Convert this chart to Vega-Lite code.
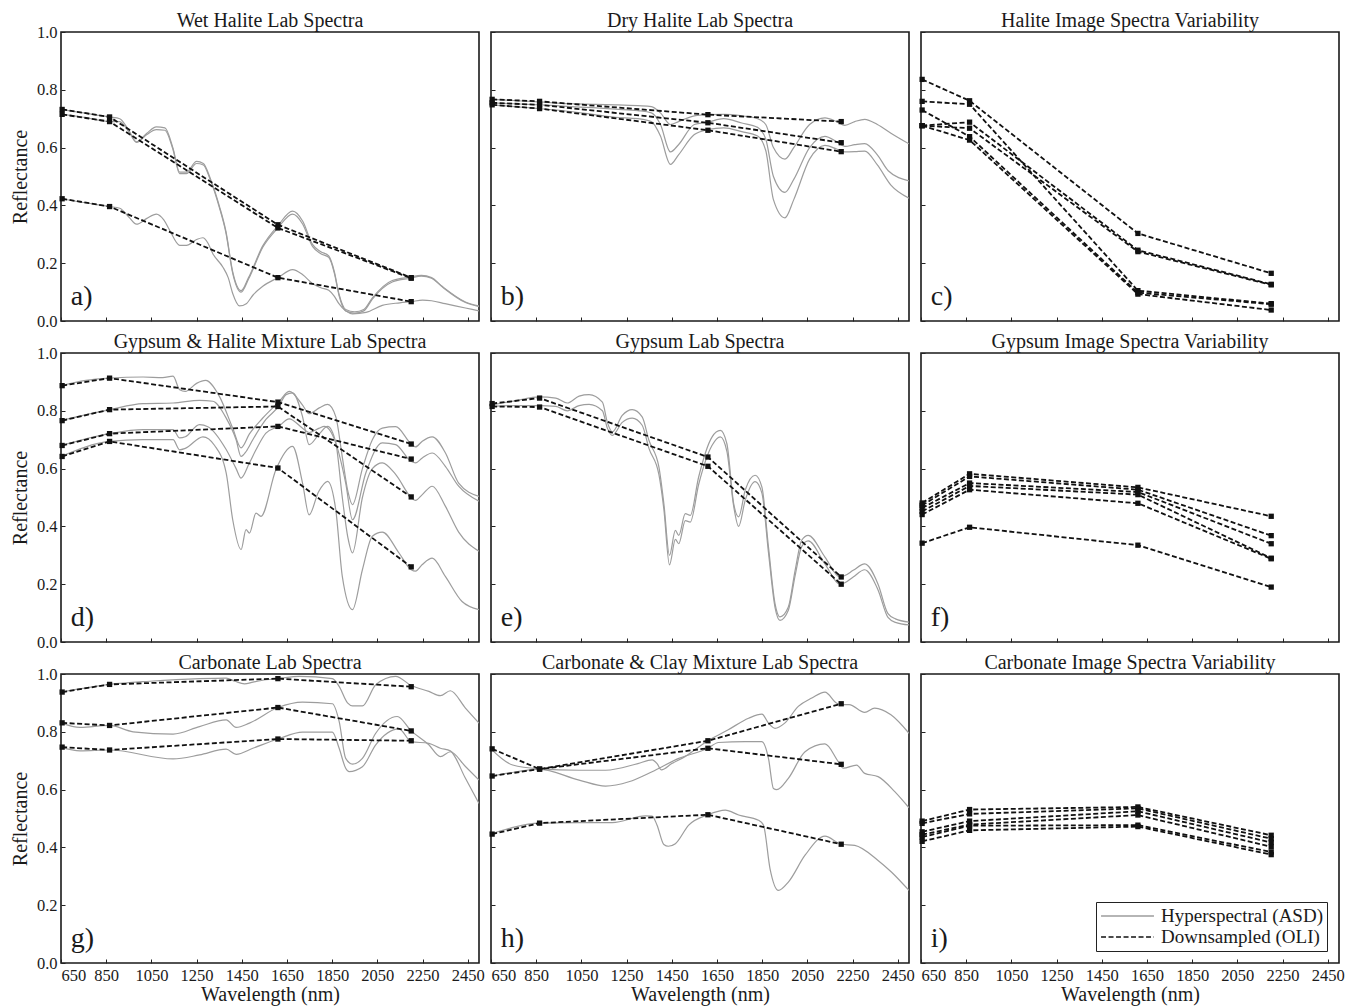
{
"$schema": "https://vega.github.io/schema/vega-lite/v6.json",
"background": "white",
"padding": {"left": 9, "top": 9, "right": 5, "bottom": 1},
"bounds": "flush",
"config": {
  "font": "Liberation Serif",
  "view": {"stroke": "#1a1a1a", "strokeWidth": 1.6},
  "axis": {"domain": false, "grid": false, "tickColor": "#222", "tickSize": -4, "tickWidth": 1, "labelFont": "Liberation Serif", "labelFontSize": 16.5, "labelColor": "#1a1a1a", "titleFont": "Liberation Serif", "titleFontSize": 20, "titleFontWeight": "normal", "titleColor": "#1a1a1a", "labelOverlap": false, "labelPadding": 8, "titlePadding": 6},
  "axisX": {"titlePadding": 1},
  "title": {"font": "Liberation Serif", "fontSize": 20, "fontWeight": "normal", "color": "#1a1a1a", "offset": 1, "anchor": "middle"},
  "legend": {"orient": "bottom-right", "offset": 12, "title": null, "strokeColor": "#222", "fillColor": "white", "padding": 4, "symbolType": "stroke", "symbolSize": 2800, "symbolStrokeWidth": 1.6, "labelFont": "Liberation Serif", "labelFontSize": 19, "labelColor": "#1a1a1a", "rowPadding": 1, "labelOffset": 6, "labelLimit": 300, "clipHeight": 20}
},
"resolve": {"scale": {"color": "independent", "strokeDash": "independent"}, "legend": {"color": "independent", "strokeDash": "independent"}},
"datasets": {
"labels": [{"p":"a","lab":"a)"},{"p":"b","lab":"b)"},{"p":"c","lab":"c)"},{"p":"d","lab":"d)"},{"p":"e","lab":"e)"},{"p":"f","lab":"f)"},{"p":"g","lab":"g)"},{"p":"h","lab":"h)"},{"p":"i","lab":"i)"}],
"oli": [
{"p":"a","s":1,"wl":655,"r":0.732},{"p":"a","s":1,"wl":865,"r":0.706},{"p":"a","s":1,"wl":1610,"r":0.333},{"p":"a","s":1,"wl":2200,"r":0.15},
{"p":"a","s":2,"wl":655,"r":0.715},{"p":"a","s":2,"wl":865,"r":0.69},{"p":"a","s":2,"wl":1610,"r":0.322},{"p":"a","s":2,"wl":2200,"r":0.148},
{"p":"a","s":3,"wl":655,"r":0.423},{"p":"a","s":3,"wl":865,"r":0.396},{"p":"a","s":3,"wl":1610,"r":0.15},{"p":"a","s":3,"wl":2200,"r":0.067},
{"p":"b","s":1,"wl":655,"r":0.767},{"p":"b","s":1,"wl":865,"r":0.76},{"p":"b","s":1,"wl":1610,"r":0.714},{"p":"b","s":1,"wl":2200,"r":0.69},
{"p":"b","s":2,"wl":655,"r":0.755},{"p":"b","s":2,"wl":865,"r":0.748},{"p":"b","s":2,"wl":1610,"r":0.686},{"p":"b","s":2,"wl":2200,"r":0.617},
{"p":"b","s":3,"wl":655,"r":0.748},{"p":"b","s":3,"wl":865,"r":0.735},{"p":"b","s":3,"wl":1610,"r":0.66},{"p":"b","s":3,"wl":2200,"r":0.586},
{"p":"c","s":1,"wl":655,"r":0.836},{"p":"c","s":1,"wl":865,"r":0.762},{"p":"c","s":1,"wl":1610,"r":0.303},{"p":"c","s":1,"wl":2200,"r":0.165},
{"p":"c","s":2,"wl":655,"r":0.76},{"p":"c","s":2,"wl":865,"r":0.75},{"p":"c","s":2,"wl":1610,"r":0.105},{"p":"c","s":2,"wl":2200,"r":0.06},
{"p":"c","s":3,"wl":655,"r":0.73},{"p":"c","s":3,"wl":865,"r":0.638},{"p":"c","s":3,"wl":1610,"r":0.098},{"p":"c","s":3,"wl":2200,"r":0.058},
{"p":"c","s":4,"wl":655,"r":0.676},{"p":"c","s":4,"wl":865,"r":0.688},{"p":"c","s":4,"wl":1610,"r":0.245},{"p":"c","s":4,"wl":2200,"r":0.127},
{"p":"c","s":5,"wl":655,"r":0.676},{"p":"c","s":5,"wl":865,"r":0.667},{"p":"c","s":5,"wl":1610,"r":0.24},{"p":"c","s":5,"wl":2200,"r":0.125},
{"p":"c","s":6,"wl":655,"r":0.676},{"p":"c","s":6,"wl":865,"r":0.626},{"p":"c","s":6,"wl":1610,"r":0.093},{"p":"c","s":6,"wl":2200,"r":0.038},
{"p":"d","s":1,"wl":655,"r":0.887},{"p":"d","s":1,"wl":865,"r":0.913},{"p":"d","s":1,"wl":1610,"r":0.83},{"p":"d","s":1,"wl":2200,"r":0.685},
{"p":"d","s":2,"wl":655,"r":0.766},{"p":"d","s":2,"wl":865,"r":0.804},{"p":"d","s":2,"wl":1610,"r":0.815},{"p":"d","s":2,"wl":2200,"r":0.502},
{"p":"d","s":3,"wl":655,"r":0.68},{"p":"d","s":3,"wl":865,"r":0.721},{"p":"d","s":3,"wl":1610,"r":0.746},{"p":"d","s":3,"wl":2200,"r":0.633},
{"p":"d","s":4,"wl":655,"r":0.642},{"p":"d","s":4,"wl":865,"r":0.694},{"p":"d","s":4,"wl":1610,"r":0.602},{"p":"d","s":4,"wl":2200,"r":0.26},
{"p":"e","s":1,"wl":655,"r":0.825},{"p":"e","s":1,"wl":865,"r":0.844},{"p":"e","s":1,"wl":1610,"r":0.64},{"p":"e","s":1,"wl":2200,"r":0.225},
{"p":"e","s":2,"wl":655,"r":0.815},{"p":"e","s":2,"wl":865,"r":0.813},{"p":"e","s":2,"wl":1610,"r":0.608},{"p":"e","s":2,"wl":2200,"r":0.2},
{"p":"f","s":1,"wl":655,"r":0.481},{"p":"f","s":1,"wl":865,"r":0.582},{"p":"f","s":1,"wl":1610,"r":0.535},{"p":"f","s":1,"wl":2200,"r":0.435},
{"p":"f","s":2,"wl":655,"r":0.473},{"p":"f","s":2,"wl":865,"r":0.573},{"p":"f","s":2,"wl":1610,"r":0.527},{"p":"f","s":2,"wl":2200,"r":0.368},
{"p":"f","s":3,"wl":655,"r":0.464},{"p":"f","s":3,"wl":865,"r":0.55},{"p":"f","s":3,"wl":1610,"r":0.519},{"p":"f","s":3,"wl":2200,"r":0.34},
{"p":"f","s":4,"wl":655,"r":0.452},{"p":"f","s":4,"wl":865,"r":0.54},{"p":"f","s":4,"wl":1610,"r":0.51},{"p":"f","s":4,"wl":2200,"r":0.29},
{"p":"f","s":5,"wl":655,"r":0.441},{"p":"f","s":5,"wl":865,"r":0.527},{"p":"f","s":5,"wl":1610,"r":0.48},{"p":"f","s":5,"wl":2200,"r":0.288},
{"p":"f","s":6,"wl":655,"r":0.342},{"p":"f","s":6,"wl":865,"r":0.397},{"p":"f","s":6,"wl":1610,"r":0.335},{"p":"f","s":6,"wl":2200,"r":0.19},
{"p":"g","s":1,"wl":655,"r":0.9375},{"p":"g","s":1,"wl":865,"r":0.964},{"p":"g","s":1,"wl":1610,"r":0.984},{"p":"g","s":1,"wl":2200,"r":0.956},
{"p":"g","s":2,"wl":655,"r":0.831},{"p":"g","s":2,"wl":865,"r":0.822},{"p":"g","s":2,"wl":1610,"r":0.884},{"p":"g","s":2,"wl":2200,"r":0.803},
{"p":"g","s":3,"wl":655,"r":0.747},{"p":"g","s":3,"wl":865,"r":0.737},{"p":"g","s":3,"wl":1610,"r":0.775},{"p":"g","s":3,"wl":2200,"r":0.769},
{"p":"h","s":1,"wl":655,"r":0.741},{"p":"h","s":1,"wl":865,"r":0.671},{"p":"h","s":1,"wl":1610,"r":0.769},{"p":"h","s":1,"wl":2200,"r":0.897},
{"p":"h","s":2,"wl":655,"r":0.647},{"p":"h","s":2,"wl":865,"r":0.671},{"p":"h","s":2,"wl":1610,"r":0.743},{"p":"h","s":2,"wl":2200,"r":0.6875},
{"p":"h","s":3,"wl":655,"r":0.446},{"p":"h","s":3,"wl":865,"r":0.484},{"p":"h","s":3,"wl":1610,"r":0.513},{"p":"h","s":3,"wl":2200,"r":0.411},
{"p":"i","s":1,"wl":655,"r":0.491,"t":"Downsampled (OLI)"},{"p":"i","s":1,"wl":865,"r":0.531,"t":"Downsampled (OLI)"},{"p":"i","s":1,"wl":1610,"r":0.54,"t":"Downsampled (OLI)"},{"p":"i","s":1,"wl":2200,"r":0.442,"t":"Downsampled (OLI)"},
{"p":"i","s":2,"wl":655,"r":0.483,"t":"Downsampled (OLI)"},{"p":"i","s":2,"wl":865,"r":0.516,"t":"Downsampled (OLI)"},{"p":"i","s":2,"wl":1610,"r":0.535,"t":"Downsampled (OLI)"},{"p":"i","s":2,"wl":2200,"r":0.43,"t":"Downsampled (OLI)"},
{"p":"i","s":3,"wl":655,"r":0.454,"t":"Downsampled (OLI)"},{"p":"i","s":3,"wl":865,"r":0.491,"t":"Downsampled (OLI)"},{"p":"i","s":3,"wl":1610,"r":0.525,"t":"Downsampled (OLI)"},{"p":"i","s":3,"wl":2200,"r":0.417,"t":"Downsampled (OLI)"},
{"p":"i","s":4,"wl":655,"r":0.444,"t":"Downsampled (OLI)"},{"p":"i","s":4,"wl":865,"r":0.479,"t":"Downsampled (OLI)"},{"p":"i","s":4,"wl":1610,"r":0.512,"t":"Downsampled (OLI)"},{"p":"i","s":4,"wl":2200,"r":0.402,"t":"Downsampled (OLI)"},
{"p":"i","s":5,"wl":655,"r":0.436,"t":"Downsampled (OLI)"},{"p":"i","s":5,"wl":865,"r":0.475,"t":"Downsampled (OLI)"},{"p":"i","s":5,"wl":1610,"r":0.477,"t":"Downsampled (OLI)"},{"p":"i","s":5,"wl":2200,"r":0.384,"t":"Downsampled (OLI)"},
{"p":"i","s":6,"wl":655,"r":0.421,"t":"Downsampled (OLI)"},{"p":"i","s":6,"wl":865,"r":0.459,"t":"Downsampled (OLI)"},{"p":"i","s":6,"wl":1610,"r":0.472,"t":"Downsampled (OLI)"},{"p":"i","s":6,"wl":2200,"r":0.375,"t":"Downsampled (OLI)"}
],
"hyper": [
{"p":"a","s":1,"wl":650,"r":0.732},{"p":"a","s":1,"wl":750,"r":0.72},{"p":"a","s":1,"wl":865,"r":0.706},{"p":"a","s":1,"wl":910,"r":0.7},{"p":"a","s":1,"wl":950,"r":0.66},{"p":"a","s":1,"wl":984,"r":0.62},{"p":"a","s":1,"wl":1030,"r":0.65},{"p":"a","s":1,"wl":1072,"r":0.672},{"p":"a","s":1,"wl":1110,"r":0.668},{"p":"a","s":1,"wl":1145,"r":0.6},{"p":"a","s":1,"wl":1175,"r":0.515},{"p":"a","s":1,"wl":1205,"r":0.515},{"p":"a","s":1,"wl":1250,"r":0.552},{"p":"a","s":1,"wl":1280,"r":0.545},{"p":"a","s":1,"wl":1310,"r":0.495},{"p":"a","s":1,"wl":1350,"r":0.4},{"p":"a","s":1,"wl":1380,"r":0.31},{"p":"a","s":1,"wl":1410,"r":0.17},{"p":"a","s":1,"wl":1447,"r":0.105},{"p":"a","s":1,"wl":1480,"r":0.15},{"p":"a","s":1,"wl":1543,"r":0.26},{"p":"a","s":1,"wl":1610,"r":0.33},{"p":"a","s":1,"wl":1675,"r":0.38},{"p":"a","s":1,"wl":1720,"r":0.345},{"p":"a","s":1,"wl":1763,"r":0.265},{"p":"a","s":1,"wl":1800,"r":0.24},{"p":"a","s":1,"wl":1835,"r":0.225},{"p":"a","s":1,"wl":1860,"r":0.17},{"p":"a","s":1,"wl":1880,"r":0.095},{"p":"a","s":1,"wl":1910,"r":0.04},{"p":"a","s":1,"wl":1950,"r":0.032},{"p":"a","s":1,"wl":1990,"r":0.04},{"p":"a","s":1,"wl":2028,"r":0.08},{"p":"a","s":1,"wl":2116,"r":0.14},{"p":"a","s":1,"wl":2195,"r":0.152},{"p":"a","s":1,"wl":2245,"r":0.158},{"p":"a","s":1,"wl":2290,"r":0.15},{"p":"a","s":1,"wl":2337,"r":0.12},{"p":"a","s":1,"wl":2440,"r":0.066},{"p":"a","s":1,"wl":2500,"r":0.052},
{"p":"a","s":2,"wl":650,"r":0.715},{"p":"a","s":2,"wl":750,"r":0.705},{"p":"a","s":2,"wl":865,"r":0.69},{"p":"a","s":2,"wl":910,"r":0.69},{"p":"a","s":2,"wl":950,"r":0.655},{"p":"a","s":2,"wl":984,"r":0.618},{"p":"a","s":2,"wl":1030,"r":0.645},{"p":"a","s":2,"wl":1072,"r":0.662},{"p":"a","s":2,"wl":1110,"r":0.66},{"p":"a","s":2,"wl":1145,"r":0.595},{"p":"a","s":2,"wl":1175,"r":0.51},{"p":"a","s":2,"wl":1205,"r":0.51},{"p":"a","s":2,"wl":1250,"r":0.545},{"p":"a","s":2,"wl":1280,"r":0.54},{"p":"a","s":2,"wl":1310,"r":0.49},{"p":"a","s":2,"wl":1350,"r":0.395},{"p":"a","s":2,"wl":1380,"r":0.305},{"p":"a","s":2,"wl":1410,"r":0.165},{"p":"a","s":2,"wl":1447,"r":0.1},{"p":"a","s":2,"wl":1480,"r":0.145},{"p":"a","s":2,"wl":1543,"r":0.255},{"p":"a","s":2,"wl":1610,"r":0.322},{"p":"a","s":2,"wl":1675,"r":0.37},{"p":"a","s":2,"wl":1720,"r":0.335},{"p":"a","s":2,"wl":1763,"r":0.258},{"p":"a","s":2,"wl":1800,"r":0.233},{"p":"a","s":2,"wl":1835,"r":0.22},{"p":"a","s":2,"wl":1860,"r":0.165},{"p":"a","s":2,"wl":1880,"r":0.09},{"p":"a","s":2,"wl":1910,"r":0.035},{"p":"a","s":2,"wl":1950,"r":0.027},{"p":"a","s":2,"wl":1990,"r":0.035},{"p":"a","s":2,"wl":2028,"r":0.076},{"p":"a","s":2,"wl":2116,"r":0.135},{"p":"a","s":2,"wl":2195,"r":0.148},{"p":"a","s":2,"wl":2245,"r":0.155},{"p":"a","s":2,"wl":2290,"r":0.148},{"p":"a","s":2,"wl":2337,"r":0.118},{"p":"a","s":2,"wl":2440,"r":0.064},{"p":"a","s":2,"wl":2500,"r":0.05},
{"p":"a","s":3,"wl":650,"r":0.423},{"p":"a","s":3,"wl":750,"r":0.41},{"p":"a","s":3,"wl":865,"r":0.396},{"p":"a","s":3,"wl":910,"r":0.39},{"p":"a","s":3,"wl":950,"r":0.36},{"p":"a","s":3,"wl":984,"r":0.335},{"p":"a","s":3,"wl":1030,"r":0.355},{"p":"a","s":3,"wl":1072,"r":0.37},{"p":"a","s":3,"wl":1105,"r":0.35},{"p":"a","s":3,"wl":1131,"r":0.314},{"p":"a","s":3,"wl":1175,"r":0.262},{"p":"a","s":3,"wl":1205,"r":0.262},{"p":"a","s":3,"wl":1250,"r":0.282},{"p":"a","s":3,"wl":1278,"r":0.288},{"p":"a","s":3,"wl":1300,"r":0.27},{"p":"a","s":3,"wl":1322,"r":0.233},{"p":"a","s":3,"wl":1366,"r":0.187},{"p":"a","s":3,"wl":1390,"r":0.15},{"p":"a","s":3,"wl":1410,"r":0.095},{"p":"a","s":3,"wl":1440,"r":0.052},{"p":"a","s":3,"wl":1470,"r":0.06},{"p":"a","s":3,"wl":1500,"r":0.09},{"p":"a","s":3,"wl":1543,"r":0.12},{"p":"a","s":3,"wl":1610,"r":0.15},{"p":"a","s":3,"wl":1675,"r":0.178},{"p":"a","s":3,"wl":1720,"r":0.16},{"p":"a","s":3,"wl":1763,"r":0.13},{"p":"a","s":3,"wl":1800,"r":0.115},{"p":"a","s":3,"wl":1835,"r":0.106},{"p":"a","s":3,"wl":1860,"r":0.085},{"p":"a","s":3,"wl":1880,"r":0.06},{"p":"a","s":3,"wl":1910,"r":0.035},{"p":"a","s":3,"wl":1940,"r":0.025},{"p":"a","s":3,"wl":2000,"r":0.03},{"p":"a","s":3,"wl":2072,"r":0.054},{"p":"a","s":3,"wl":2150,"r":0.063},{"p":"a","s":3,"wl":2200,"r":0.067},{"p":"a","s":3,"wl":2250,"r":0.072},{"p":"a","s":3,"wl":2290,"r":0.07},{"p":"a","s":3,"wl":2350,"r":0.06},{"p":"a","s":3,"wl":2440,"r":0.045},{"p":"a","s":3,"wl":2500,"r":0.035},
{"p":"b","s":1,"wl":650,"r":0.767},{"p":"b","s":1,"wl":865,"r":0.758},{"p":"b","s":1,"wl":1000,"r":0.752},{"p":"b","s":1,"wl":1100,"r":0.75},{"p":"b","s":1,"wl":1200,"r":0.748},{"p":"b","s":1,"wl":1300,"r":0.745},{"p":"b","s":1,"wl":1360,"r":0.742},{"p":"b","s":1,"wl":1400,"r":0.72},{"p":"b","s":1,"wl":1444,"r":0.68},{"p":"b","s":1,"wl":1480,"r":0.69},{"p":"b","s":1,"wl":1550,"r":0.71},{"p":"b","s":1,"wl":1610,"r":0.714},{"p":"b","s":1,"wl":1680,"r":0.715},{"p":"b","s":1,"wl":1760,"r":0.71},{"p":"b","s":1,"wl":1830,"r":0.7},{"p":"b","s":1,"wl":1866,"r":0.68},{"p":"b","s":1,"wl":1900,"r":0.6},{"p":"b","s":1,"wl":1951,"r":0.56},{"p":"b","s":1,"wl":1990,"r":0.6},{"p":"b","s":1,"wl":2060,"r":0.68},{"p":"b","s":1,"wl":2128,"r":0.703},{"p":"b","s":1,"wl":2180,"r":0.69},{"p":"b","s":1,"wl":2216,"r":0.677},{"p":"b","s":1,"wl":2260,"r":0.69},{"p":"b","s":1,"wl":2304,"r":0.698},{"p":"b","s":1,"wl":2360,"r":0.68},{"p":"b","s":1,"wl":2420,"r":0.65},{"p":"b","s":1,"wl":2500,"r":0.613},
{"p":"b","s":2,"wl":650,"r":0.755},{"p":"b","s":2,"wl":865,"r":0.748},{"p":"b","s":2,"wl":1000,"r":0.742},{"p":"b","s":2,"wl":1100,"r":0.738},{"p":"b","s":2,"wl":1200,"r":0.733},{"p":"b","s":2,"wl":1300,"r":0.728},{"p":"b","s":2,"wl":1360,"r":0.72},{"p":"b","s":2,"wl":1400,"r":0.68},{"p":"b","s":2,"wl":1444,"r":0.585},{"p":"b","s":2,"wl":1480,"r":0.61},{"p":"b","s":2,"wl":1550,"r":0.68},{"p":"b","s":2,"wl":1610,"r":0.688},{"p":"b","s":2,"wl":1680,"r":0.7},{"p":"b","s":2,"wl":1760,"r":0.685},{"p":"b","s":2,"wl":1830,"r":0.67},{"p":"b","s":2,"wl":1866,"r":0.63},{"p":"b","s":2,"wl":1900,"r":0.5},{"p":"b","s":2,"wl":1951,"r":0.445},{"p":"b","s":2,"wl":1990,"r":0.49},{"p":"b","s":2,"wl":2060,"r":0.6},{"p":"b","s":2,"wl":2128,"r":0.639},{"p":"b","s":2,"wl":2180,"r":0.62},{"p":"b","s":2,"wl":2216,"r":0.604},{"p":"b","s":2,"wl":2260,"r":0.61},{"p":"b","s":2,"wl":2304,"r":0.614},{"p":"b","s":2,"wl":2360,"r":0.575},{"p":"b","s":2,"wl":2408,"r":0.52},{"p":"b","s":2,"wl":2500,"r":0.485},
{"p":"b","s":3,"wl":650,"r":0.748},{"p":"b","s":3,"wl":865,"r":0.735},{"p":"b","s":3,"wl":1000,"r":0.725},{"p":"b","s":3,"wl":1100,"r":0.715},{"p":"b","s":3,"wl":1200,"r":0.705},{"p":"b","s":3,"wl":1300,"r":0.7},{"p":"b","s":3,"wl":1360,"r":0.69},{"p":"b","s":3,"wl":1400,"r":0.64},{"p":"b","s":3,"wl":1444,"r":0.542},{"p":"b","s":3,"wl":1480,"r":0.575},{"p":"b","s":3,"wl":1550,"r":0.645},{"p":"b","s":3,"wl":1610,"r":0.662},{"p":"b","s":3,"wl":1680,"r":0.668},{"p":"b","s":3,"wl":1760,"r":0.655},{"p":"b","s":3,"wl":1830,"r":0.64},{"p":"b","s":3,"wl":1866,"r":0.59},{"p":"b","s":3,"wl":1900,"r":0.42},{"p":"b","s":3,"wl":1951,"r":0.357},{"p":"b","s":3,"wl":1990,"r":0.42},{"p":"b","s":3,"wl":2060,"r":0.56},{"p":"b","s":3,"wl":2128,"r":0.608},{"p":"b","s":3,"wl":2180,"r":0.595},{"p":"b","s":3,"wl":2216,"r":0.585},{"p":"b","s":3,"wl":2260,"r":0.586},{"p":"b","s":3,"wl":2304,"r":0.588},{"p":"b","s":3,"wl":2360,"r":0.54},{"p":"b","s":3,"wl":2420,"r":0.47},{"p":"b","s":3,"wl":2500,"r":0.425},
{"p":"d","s":1,"wl":650,"r":0.887},{"p":"d","s":1,"wl":760,"r":0.905},{"p":"d","s":1,"wl":865,"r":0.913},{"p":"d","s":1,"wl":1013,"r":0.917},{"p":"d","s":1,"wl":1100,"r":0.915},{"p":"d","s":1,"wl":1146,"r":0.92},{"p":"d","s":1,"wl":1175,"r":0.873},{"p":"d","s":1,"wl":1200,"r":0.867},{"p":"d","s":1,"wl":1250,"r":0.895},{"p":"d","s":1,"wl":1290,"r":0.905},{"p":"d","s":1,"wl":1351,"r":0.85},{"p":"d","s":1,"wl":1410,"r":0.74},{"p":"d","s":1,"wl":1447,"r":0.672},{"p":"d","s":1,"wl":1484,"r":0.72},{"p":"d","s":1,"wl":1543,"r":0.775},{"p":"d","s":1,"wl":1613,"r":0.83},{"p":"d","s":1,"wl":1660,"r":0.867},{"p":"d","s":1,"wl":1719,"r":0.82},{"p":"d","s":1,"wl":1748,"r":0.79},{"p":"d","s":1,"wl":1793,"r":0.81},{"p":"d","s":1,"wl":1830,"r":0.822},{"p":"d","s":1,"wl":1866,"r":0.78},{"p":"d","s":1,"wl":1895,"r":0.64},{"p":"d","s":1,"wl":1920,"r":0.52},{"p":"d","s":1,"wl":1940,"r":0.475},{"p":"d","s":1,"wl":1984,"r":0.6},{"p":"d","s":1,"wl":2028,"r":0.7},{"p":"d","s":1,"wl":2072,"r":0.74},{"p":"d","s":1,"wl":2131,"r":0.745},{"p":"d","s":1,"wl":2200,"r":0.685},{"p":"d","s":1,"wl":2219,"r":0.675},{"p":"d","s":1,"wl":2249,"r":0.695},{"p":"d","s":1,"wl":2293,"r":0.71},{"p":"d","s":1,"wl":2351,"r":0.655},{"p":"d","s":1,"wl":2410,"r":0.55},{"p":"d","s":1,"wl":2500,"r":0.504},
{"p":"d","s":2,"wl":650,"r":0.766},{"p":"d","s":2,"wl":865,"r":0.804},{"p":"d","s":2,"wl":1013,"r":0.825},{"p":"d","s":2,"wl":1146,"r":0.827},{"p":"d","s":2,"wl":1263,"r":0.836},{"p":"d","s":2,"wl":1322,"r":0.833},{"p":"d","s":2,"wl":1381,"r":0.775},{"p":"d","s":2,"wl":1425,"r":0.7},{"p":"d","s":2,"wl":1447,"r":0.642},{"p":"d","s":2,"wl":1470,"r":0.66},{"p":"d","s":2,"wl":1499,"r":0.7},{"p":"d","s":2,"wl":1557,"r":0.77},{"p":"d","s":2,"wl":1613,"r":0.815},{"p":"d","s":2,"wl":1646,"r":0.856},{"p":"d","s":2,"wl":1675,"r":0.862},{"p":"d","s":2,"wl":1719,"r":0.78},{"p":"d","s":2,"wl":1748,"r":0.683},{"p":"d","s":2,"wl":1793,"r":0.72},{"p":"d","s":2,"wl":1830,"r":0.746},{"p":"d","s":2,"wl":1866,"r":0.69},{"p":"d","s":2,"wl":1895,"r":0.5},{"p":"d","s":2,"wl":1920,"r":0.36},{"p":"d","s":2,"wl":1940,"r":0.308},{"p":"d","s":2,"wl":1984,"r":0.5},{"p":"d","s":2,"wl":2028,"r":0.6},{"p":"d","s":2,"wl":2072,"r":0.62},{"p":"d","s":2,"wl":2131,"r":0.58},{"p":"d","s":2,"wl":2200,"r":0.5},{"p":"d","s":2,"wl":2219,"r":0.49},{"p":"d","s":2,"wl":2249,"r":0.51},{"p":"d","s":2,"wl":2293,"r":0.539},{"p":"d","s":2,"wl":2351,"r":0.47},{"p":"d","s":2,"wl":2410,"r":0.38},{"p":"d","s":2,"wl":2500,"r":0.314},
{"p":"d","s":3,"wl":650,"r":0.68},{"p":"d","s":3,"wl":865,"r":0.721},{"p":"d","s":3,"wl":1013,"r":0.735},{"p":"d","s":3,"wl":1146,"r":0.735},{"p":"d","s":3,"wl":1175,"r":0.706},{"p":"d","s":3,"wl":1200,"r":0.71},{"p":"d","s":3,"wl":1263,"r":0.752},{"p":"d","s":3,"wl":1300,"r":0.745},{"p":"d","s":3,"wl":1381,"r":0.666},{"p":"d","s":3,"wl":1425,"r":0.6},{"p":"d","s":3,"wl":1447,"r":0.567},{"p":"d","s":3,"wl":1484,"r":0.62},{"p":"d","s":3,"wl":1513,"r":0.665},{"p":"d","s":3,"wl":1557,"r":0.723},{"p":"d","s":3,"wl":1613,"r":0.746},{"p":"d","s":3,"wl":1660,"r":0.772},{"p":"d","s":3,"wl":1719,"r":0.74},{"p":"d","s":3,"wl":1748,"r":0.725},{"p":"d","s":3,"wl":1793,"r":0.74},{"p":"d","s":3,"wl":1815,"r":0.746},{"p":"d","s":3,"wl":1866,"r":0.689},{"p":"d","s":3,"wl":1910,"r":0.55},{"p":"d","s":3,"wl":1940,"r":0.423},{"p":"d","s":3,"wl":1999,"r":0.585},{"p":"d","s":3,"wl":2072,"r":0.689},{"p":"d","s":3,"wl":2131,"r":0.683},{"p":"d","s":3,"wl":2200,"r":0.625},{"p":"d","s":3,"wl":2219,"r":0.62},{"p":"d","s":3,"wl":2249,"r":0.637},{"p":"d","s":3,"wl":2293,"r":0.654},{"p":"d","s":3,"wl":2351,"r":0.608},{"p":"d","s":3,"wl":2410,"r":0.539},{"p":"d","s":3,"wl":2500,"r":0.487},
{"p":"d","s":4,"wl":650,"r":0.642},{"p":"d","s":4,"wl":865,"r":0.694},{"p":"d","s":4,"wl":1013,"r":0.7},{"p":"d","s":4,"wl":1146,"r":0.7},{"p":"d","s":4,"wl":1175,"r":0.665},{"p":"d","s":4,"wl":1200,"r":0.67},{"p":"d","s":4,"wl":1278,"r":0.71},{"p":"d","s":4,"wl":1330,"r":0.68},{"p":"d","s":4,"wl":1381,"r":0.585},{"p":"d","s":4,"wl":1410,"r":0.423},{"p":"d","s":4,"wl":1447,"r":0.32},{"p":"d","s":4,"wl":1469,"r":0.389},{"p":"d","s":4,"wl":1484,"r":0.377},{"p":"d","s":4,"wl":1513,"r":0.446},{"p":"d","s":4,"wl":1535,"r":0.435},{"p":"d","s":4,"wl":1601,"r":0.596},{"p":"d","s":4,"wl":1675,"r":0.677},{"p":"d","s":4,"wl":1719,"r":0.55},{"p":"d","s":4,"wl":1748,"r":0.44},{"p":"d","s":4,"wl":1790,"r":0.52},{"p":"d","s":4,"wl":1830,"r":0.556},{"p":"d","s":4,"wl":1866,"r":0.458},{"p":"d","s":4,"wl":1895,"r":0.227},{"p":"d","s":4,"wl":1940,"r":0.112},{"p":"d","s":4,"wl":1984,"r":0.25},{"p":"d","s":4,"wl":2028,"r":0.366},{"p":"d","s":4,"wl":2072,"r":0.38},{"p":"d","s":4,"wl":2146,"r":0.308},{"p":"d","s":4,"wl":2200,"r":0.25},{"p":"d","s":4,"wl":2219,"r":0.245},{"p":"d","s":4,"wl":2249,"r":0.268},{"p":"d","s":4,"wl":2293,"r":0.29},{"p":"d","s":4,"wl":2351,"r":0.227},{"p":"d","s":4,"wl":2425,"r":0.14},{"p":"d","s":4,"wl":2500,"r":0.112},
{"p":"e","s":1,"wl":650,"r":0.82},{"p":"e","s":1,"wl":760,"r":0.835},{"p":"e","s":1,"wl":863,"r":0.848},{"p":"e","s":1,"wl":937,"r":0.844},{"p":"e","s":1,"wl":988,"r":0.827},{"p":"e","s":1,"wl":1040,"r":0.851},{"p":"e","s":1,"wl":1084,"r":0.856},{"p":"e","s":1,"wl":1143,"r":0.83},{"p":"e","s":1,"wl":1165,"r":0.76},{"p":"e","s":1,"wl":1187,"r":0.727},{"p":"e","s":1,"wl":1231,"r":0.784},{"p":"e","s":1,"wl":1275,"r":0.804},{"p":"e","s":1,"wl":1319,"r":0.779},{"p":"e","s":1,"wl":1349,"r":0.698},{"p":"e","s":1,"wl":1393,"r":0.606},{"p":"e","s":1,"wl":1415,"r":0.479},{"p":"e","s":1,"wl":1440,"r":0.3},{"p":"e","s":1,"wl":1466,"r":0.386},{"p":"e","s":1,"wl":1481,"r":0.369},{"p":"e","s":1,"wl":1510,"r":0.444},{"p":"e","s":1,"wl":1532,"r":0.438},{"p":"e","s":1,"wl":1569,"r":0.571},{"p":"e","s":1,"wl":1628,"r":0.709},{"p":"e","s":1,"wl":1665,"r":0.732},{"p":"e","s":1,"wl":1694,"r":0.686},{"p":"e","s":1,"wl":1724,"r":0.479},{"p":"e","s":1,"wl":1746,"r":0.433},{"p":"e","s":1,"wl":1775,"r":0.525},{"p":"e","s":1,"wl":1819,"r":0.577},{"p":"e","s":1,"wl":1849,"r":0.536},{"p":"e","s":1,"wl":1878,"r":0.329},{"p":"e","s":1,"wl":1907,"r":0.133},{"p":"e","s":1,"wl":1929,"r":0.087},{"p":"e","s":1,"wl":1966,"r":0.121},{"p":"e","s":1,"wl":1996,"r":0.248},{"p":"e","s":1,"wl":2025,"r":0.352},{"p":"e","s":1,"wl":2054,"r":0.369},{"p":"e","s":1,"wl":2128,"r":0.294},{"p":"e","s":1,"wl":2194,"r":0.225},{"p":"e","s":1,"wl":2216,"r":0.23},{"p":"e","s":1,"wl":2253,"r":0.248},{"p":"e","s":1,"wl":2304,"r":0.27},{"p":"e","s":1,"wl":2363,"r":0.2},{"p":"e","s":1,"wl":2407,"r":0.098},{"p":"e","s":1,"wl":2440,"r":0.08},{"p":"e","s":1,"wl":2500,"r":0.069},
{"p":"e","s":2,"wl":650,"r":0.815},{"p":"e","s":2,"wl":760,"r":0.818},{"p":"e","s":2,"wl":863,"r":0.818},{"p":"e","s":2,"wl":937,"r":0.815},{"p":"e","s":2,"wl":988,"r":0.8},{"p":"e","s":2,"wl":1040,"r":0.818},{"p":"e","s":2,"wl":1084,"r":0.822},{"p":"e","s":2,"wl":1143,"r":0.8},{"p":"e","s":2,"wl":1165,"r":0.74},{"p":"e","s":2,"wl":1187,"r":0.715},{"p":"e","s":2,"wl":1231,"r":0.76},{"p":"e","s":2,"wl":1275,"r":0.775},{"p":"e","s":2,"wl":1319,"r":0.75},{"p":"e","s":2,"wl":1349,"r":0.67},{"p":"e","s":2,"wl":1393,"r":0.58},{"p":"e","s":2,"wl":1415,"r":0.46},{"p":"e","s":2,"wl":1440,"r":0.267},{"p":"e","s":2,"wl":1466,"r":0.355},{"p":"e","s":2,"wl":1481,"r":0.34},{"p":"e","s":2,"wl":1510,"r":0.42},{"p":"e","s":2,"wl":1532,"r":0.415},{"p":"e","s":2,"wl":1569,"r":0.545},{"p":"e","s":2,"wl":1628,"r":0.68},{"p":"e","s":2,"wl":1665,"r":0.71},{"p":"e","s":2,"wl":1694,"r":0.66},{"p":"e","s":2,"wl":1724,"r":0.47},{"p":"e","s":2,"wl":1746,"r":0.4},{"p":"e","s":2,"wl":1775,"r":0.49},{"p":"e","s":2,"wl":1819,"r":0.555},{"p":"e","s":2,"wl":1849,"r":0.515},{"p":"e","s":2,"wl":1878,"r":0.31},{"p":"e","s":2,"wl":1907,"r":0.12},{"p":"e","s":2,"wl":1929,"r":0.075},{"p":"e","s":2,"wl":1966,"r":0.11},{"p":"e","s":2,"wl":1996,"r":0.23},{"p":"e","s":2,"wl":2025,"r":0.33},{"p":"e","s":2,"wl":2054,"r":0.35},{"p":"e","s":2,"wl":2128,"r":0.27},{"p":"e","s":2,"wl":2194,"r":0.2},{"p":"e","s":2,"wl":2216,"r":0.205},{"p":"e","s":2,"wl":2253,"r":0.225},{"p":"e","s":2,"wl":2304,"r":0.25},{"p":"e","s":2,"wl":2363,"r":0.18},{"p":"e","s":2,"wl":2407,"r":0.085},{"p":"e","s":2,"wl":2440,"r":0.068},{"p":"e","s":2,"wl":2500,"r":0.059},
{"p":"g","s":1,"wl":650,"r":0.937},{"p":"g","s":1,"wl":865,"r":0.964},{"p":"g","s":1,"wl":1043,"r":0.975},{"p":"g","s":1,"wl":1263,"r":0.984},{"p":"g","s":1,"wl":1381,"r":0.986},{"p":"g","s":1,"wl":1420,"r":0.975},{"p":"g","s":1,"wl":1462,"r":0.966},{"p":"g","s":1,"wl":1500,"r":0.972},{"p":"g","s":1,"wl":1557,"r":0.98},{"p":"g","s":1,"wl":1610,"r":0.984},{"p":"g","s":1,"wl":1704,"r":0.992},{"p":"g","s":1,"wl":1851,"r":0.984},{"p":"g","s":1,"wl":1881,"r":0.957},{"p":"g","s":1,"wl":1918,"r":0.9},{"p":"g","s":1,"wl":1940,"r":0.89},{"p":"g","s":1,"wl":1984,"r":0.89},{"p":"g","s":1,"wl":2043,"r":0.963},{"p":"g","s":1,"wl":2131,"r":0.992},{"p":"g","s":1,"wl":2200,"r":0.96},{"p":"g","s":1,"wl":2278,"r":0.94},{"p":"g","s":1,"wl":2329,"r":0.925},{"p":"g","s":1,"wl":2373,"r":0.942},{"p":"g","s":1,"wl":2440,"r":0.882},{"p":"g","s":1,"wl":2500,"r":0.83},
{"p":"g","s":2,"wl":650,"r":0.831},{"p":"g","s":2,"wl":734,"r":0.815},{"p":"g","s":2,"wl":865,"r":0.822},{"p":"g","s":2,"wl":969,"r":0.8},{"p":"g","s":2,"wl":1146,"r":0.792},{"p":"g","s":2,"wl":1263,"r":0.818},{"p":"g","s":2,"wl":1381,"r":0.841},{"p":"g","s":2,"wl":1425,"r":0.815},{"p":"g","s":2,"wl":1484,"r":0.83},{"p":"g","s":2,"wl":1610,"r":0.884},{"p":"g","s":2,"wl":1719,"r":0.903},{"p":"g","s":2,"wl":1851,"r":0.897},{"p":"g","s":2,"wl":1881,"r":0.836},{"p":"g","s":2,"wl":1910,"r":0.708},{"p":"g","s":2,"wl":1940,"r":0.688},{"p":"g","s":2,"wl":1984,"r":0.708},{"p":"g","s":2,"wl":2043,"r":0.795},{"p":"g","s":2,"wl":2138,"r":0.853},{"p":"g","s":2,"wl":2200,"r":0.803},{"p":"g","s":2,"wl":2278,"r":0.755},{"p":"g","s":2,"wl":2329,"r":0.714},{"p":"g","s":2,"wl":2373,"r":0.731},{"p":"g","s":2,"wl":2440,"r":0.68},{"p":"g","s":2,"wl":2500,"r":0.633},
{"p":"g","s":3,"wl":650,"r":0.747},{"p":"g","s":3,"wl":734,"r":0.734},{"p":"g","s":3,"wl":865,"r":0.737},{"p":"g","s":3,"wl":1146,"r":0.706},{"p":"g","s":3,"wl":1263,"r":0.72},{"p":"g","s":3,"wl":1381,"r":0.74},{"p":"g","s":3,"wl":1425,"r":0.722},{"p":"g","s":3,"wl":1499,"r":0.743},{"p":"g","s":3,"wl":1610,"r":0.775},{"p":"g","s":3,"wl":1719,"r":0.799},{"p":"g","s":3,"wl":1851,"r":0.799},{"p":"g","s":3,"wl":1881,"r":0.743},{"p":"g","s":3,"wl":1910,"r":0.674},{"p":"g","s":3,"wl":1925,"r":0.662},{"p":"g","s":3,"wl":1984,"r":0.679},{"p":"g","s":3,"wl":2043,"r":0.755},{"p":"g","s":3,"wl":2146,"r":0.81},{"p":"g","s":3,"wl":2200,"r":0.766},{"p":"g","s":3,"wl":2278,"r":0.76},{"p":"g","s":3,"wl":2329,"r":0.743},{"p":"g","s":3,"wl":2373,"r":0.734},{"p":"g","s":3,"wl":2440,"r":0.639},{"p":"g","s":3,"wl":2500,"r":0.552},
{"p":"h","s":1,"wl":650,"r":0.741},{"p":"h","s":1,"wl":746,"r":0.685},{"p":"h","s":1,"wl":860,"r":0.672},{"p":"h","s":1,"wl":1040,"r":0.667},{"p":"h","s":1,"wl":1157,"r":0.667},{"p":"h","s":1,"wl":1300,"r":0.69},{"p":"h","s":1,"wl":1363,"r":0.703},{"p":"h","s":1,"wl":1385,"r":0.69},{"p":"h","s":1,"wl":1404,"r":0.668},{"p":"h","s":1,"wl":1450,"r":0.69},{"p":"h","s":1,"wl":1510,"r":0.715},{"p":"h","s":1,"wl":1610,"r":0.769},{"p":"h","s":1,"wl":1700,"r":0.807},{"p":"h","s":1,"wl":1790,"r":0.847},{"p":"h","s":1,"wl":1849,"r":0.861},{"p":"h","s":1,"wl":1878,"r":0.83},{"p":"h","s":1,"wl":1907,"r":0.812},{"p":"h","s":1,"wl":1950,"r":0.83},{"p":"h","s":1,"wl":2010,"r":0.888},{"p":"h","s":1,"wl":2070,"r":0.917},{"p":"h","s":1,"wl":2128,"r":0.9375},{"p":"h","s":1,"wl":2180,"r":0.899},{"p":"h","s":1,"wl":2200,"r":0.894},{"p":"h","s":1,"wl":2235,"r":0.894},{"p":"h","s":1,"wl":2304,"r":0.867},{"p":"h","s":1,"wl":2348,"r":0.882},{"p":"h","s":1,"wl":2420,"r":0.859},{"p":"h","s":1,"wl":2500,"r":0.795},
{"p":"h","s":2,"wl":650,"r":0.647},{"p":"h","s":2,"wl":750,"r":0.66},{"p":"h","s":2,"wl":860,"r":0.671},{"p":"h","s":2,"wl":1040,"r":0.633},{"p":"h","s":2,"wl":1157,"r":0.612},{"p":"h","s":2,"wl":1260,"r":0.627},{"p":"h","s":2,"wl":1363,"r":0.662},{"p":"h","s":2,"wl":1481,"r":0.708},{"p":"h","s":2,"wl":1610,"r":0.743},{"p":"h","s":2,"wl":1657,"r":0.763},{"p":"h","s":2,"wl":1775,"r":0.766},{"p":"h","s":2,"wl":1849,"r":0.766},{"p":"h","s":2,"wl":1878,"r":0.708},{"p":"h","s":2,"wl":1900,"r":0.604},{"p":"h","s":2,"wl":1915,"r":0.6},{"p":"h","s":2,"wl":1966,"r":0.639},{"p":"h","s":2,"wl":2040,"r":0.731},{"p":"h","s":2,"wl":2128,"r":0.758},{"p":"h","s":2,"wl":2187,"r":0.697},{"p":"h","s":2,"wl":2209,"r":0.674},{"p":"h","s":2,"wl":2268,"r":0.685},{"p":"h","s":2,"wl":2304,"r":0.656},{"p":"h","s":2,"wl":2363,"r":0.645},{"p":"h","s":2,"wl":2437,"r":0.593},{"p":"h","s":2,"wl":2500,"r":0.537},
{"p":"h","s":3,"wl":650,"r":0.446},{"p":"h","s":3,"wl":865,"r":0.484},{"p":"h","s":3,"wl":1040,"r":0.486},{"p":"h","s":3,"wl":1187,"r":0.486},{"p":"h","s":3,"wl":1334,"r":0.509},{"p":"h","s":3,"wl":1363,"r":0.508},{"p":"h","s":3,"wl":1385,"r":0.477},{"p":"h","s":3,"wl":1415,"r":0.41},{"p":"h","s":3,"wl":1435,"r":0.404},{"p":"h","s":3,"wl":1466,"r":0.413},{"p":"h","s":3,"wl":1525,"r":0.477},{"p":"h","s":3,"wl":1610,"r":0.513},{"p":"h","s":3,"wl":1687,"r":0.529},{"p":"h","s":3,"wl":1746,"r":0.512},{"p":"h","s":3,"wl":1834,"r":0.494},{"p":"h","s":3,"wl":1856,"r":0.477},{"p":"h","s":3,"wl":1885,"r":0.326},{"p":"h","s":3,"wl":1922,"r":0.251},{"p":"h","s":3,"wl":1966,"r":0.28},{"p":"h","s":3,"wl":2040,"r":0.373},{"p":"h","s":3,"wl":2128,"r":0.439},{"p":"h","s":3,"wl":2200,"r":0.411},{"p":"h","s":3,"wl":2260,"r":0.407},{"p":"h","s":3,"wl":2363,"r":0.355},{"p":"h","s":3,"wl":2422,"r":0.315},{"p":"h","s":3,"wl":2500,"r":0.251}
]
},
"concat": [
{"title": {"text": "Wet Halite Lab Spectra", "offset": -7}, "width": 418, "height": 289,
 "layer": [
  {"data": {"name": "hyper"}, "transform": [{"filter": "datum.p == 'a'"}], "mark": {"type": "line", "color": "#9d9d9d", "strokeWidth": 1.2, "interpolate": "monotone", "clip": true},
   "encoding": {"x": {"field": "wl", "type": "quantitative", "scale": {"domain": [650, 2500], "nice": false, "zero": false}, "axis": {"values": [650,750,850,950,1050,1150,1250,1350,1450,1550,1650,1750,1850,1950,2050,2150,2250,2350,2450], "labels": false, "title": null}},
                "y": {"field": "r", "type": "quantitative", "scale": {"domain": [0, 1], "nice": false}, "axis": {"values": [0,0.1,0.2,0.3,0.4,0.5,0.6,0.7,0.8,0.9,1], "format": ".1f", "labelExpr": "round(datum.value*10) % 2 == 0 ? datum.label : ''", "title": "Reflectance"}},
                "detail": {"field": "s"}}},
  {"data": {"name": "oli"}, "transform": [{"filter": "datum.p == 'a'"}], "mark": {"type": "line", "color": "#111", "strokeWidth": 1.8, "strokeDash": [5, 2.5]}, "encoding": {"x": {"field": "wl", "type": "quantitative"}, "y": {"field": "r", "type": "quantitative"}, "detail": {"field": "s"}}},
  {"data": {"name": "oli"}, "transform": [{"filter": "datum.p == 'a'"}], "mark": {"type": "square", "color": "#111", "size": 28, "opacity": 1, "filled": true}, "encoding": {"x": {"field": "wl", "type": "quantitative"}, "y": {"field": "r", "type": "quantitative"}}},
  {"data": {"name": "labels"}, "transform": [{"filter": "datum.p == 'a'"}], "mark": {"type": "text", "fontSize": 28, "align": "left", "baseline": "alphabetic", "color": "#1a1a1a"}, "encoding": {"text": {"field": "lab"}, "x": {"datum": 693}, "y": {"datum": 0.055}}}
 ]},
{"title": "Dry Halite Lab Spectra", "width": 418, "height": 289,
 "layer": [
  {"data": {"name": "hyper"}, "transform": [{"filter": "datum.p == 'b'"}], "mark": {"type": "line", "color": "#9d9d9d", "strokeWidth": 1.2, "interpolate": "monotone", "clip": true},
   "encoding": {"x": {"field": "wl", "type": "quantitative", "scale": {"domain": [650, 2500], "nice": false, "zero": false}, "axis": {"values": [650,750,850,950,1050,1150,1250,1350,1450,1550,1650,1750,1850,1950,2050,2150,2250,2350,2450], "labels": false, "title": null}},
                "y": {"field": "r", "type": "quantitative", "scale": {"domain": [0, 1], "nice": false}, "axis": {"values": [0,0.1,0.2,0.3,0.4,0.5,0.6,0.7,0.8,0.9,1], "labels": false, "title": null}},
                "detail": {"field": "s"}}},
  {"data": {"name": "oli"}, "transform": [{"filter": "datum.p == 'b'"}], "mark": {"type": "line", "color": "#111", "strokeWidth": 1.8, "strokeDash": [5, 2.5]}, "encoding": {"x": {"field": "wl", "type": "quantitative"}, "y": {"field": "r", "type": "quantitative"}, "detail": {"field": "s"}}},
  {"data": {"name": "oli"}, "transform": [{"filter": "datum.p == 'b'"}], "mark": {"type": "square", "color": "#111", "size": 28, "opacity": 1, "filled": true}, "encoding": {"x": {"field": "wl", "type": "quantitative"}, "y": {"field": "r", "type": "quantitative"}}},
  {"data": {"name": "labels"}, "transform": [{"filter": "datum.p == 'b'"}], "mark": {"type": "text", "fontSize": 28, "align": "left", "baseline": "alphabetic", "color": "#1a1a1a"}, "encoding": {"text": {"field": "lab"}, "x": {"datum": 693}, "y": {"datum": 0.055}}}
 ]},
{"title": "Halite Image Spectra Variability", "width": 418, "height": 289,
 "layer": [
  {"data": {"name": "oli"}, "transform": [{"filter": "datum.p == 'c'"}], "mark": {"type": "line", "color": "#111", "strokeWidth": 1.8, "strokeDash": [5, 2.5]},
   "encoding": {"x": {"field": "wl", "type": "quantitative", "scale": {"domain": [650, 2500], "nice": false, "zero": false}, "axis": {"values": [650,750,850,950,1050,1150,1250,1350,1450,1550,1650,1750,1850,1950,2050,2150,2250,2350,2450], "labels": false, "title": null}},
                "y": {"field": "r", "type": "quantitative", "scale": {"domain": [0, 1], "nice": false}, "axis": {"values": [0,0.1,0.2,0.3,0.4,0.5,0.6,0.7,0.8,0.9,1], "labels": false, "title": null}},
                "detail": {"field": "s"}}},
  {"data": {"name": "oli"}, "transform": [{"filter": "datum.p == 'c'"}], "mark": {"type": "square", "color": "#111", "size": 28, "opacity": 1, "filled": true}, "encoding": {"x": {"field": "wl", "type": "quantitative"}, "y": {"field": "r", "type": "quantitative"}}},
  {"data": {"name": "labels"}, "transform": [{"filter": "datum.p == 'c'"}], "mark": {"type": "text", "fontSize": 28, "align": "left", "baseline": "alphabetic", "color": "#1a1a1a"}, "encoding": {"text": {"field": "lab"}, "x": {"datum": 693}, "y": {"datum": 0.055}}}
 ]},
{"title": {"text": "Gypsum & Halite Mixture Lab Spectra", "offset": -7}, "width": 418, "height": 289,
 "layer": [
  {"data": {"name": "hyper"}, "transform": [{"filter": "datum.p == 'd'"}], "mark": {"type": "line", "color": "#9d9d9d", "strokeWidth": 1.2, "interpolate": "monotone", "clip": true},
   "encoding": {"x": {"field": "wl", "type": "quantitative", "scale": {"domain": [650, 2500], "nice": false, "zero": false}, "axis": {"values": [650,750,850,950,1050,1150,1250,1350,1450,1550,1650,1750,1850,1950,2050,2150,2250,2350,2450], "labels": false, "title": null}},
                "y": {"field": "r", "type": "quantitative", "scale": {"domain": [0, 1], "nice": false}, "axis": {"values": [0,0.1,0.2,0.3,0.4,0.5,0.6,0.7,0.8,0.9,1], "format": ".1f", "labelExpr": "round(datum.value*10) % 2 == 0 ? datum.label : ''", "title": "Reflectance"}},
                "detail": {"field": "s"}}},
  {"data": {"name": "oli"}, "transform": [{"filter": "datum.p == 'd'"}], "mark": {"type": "line", "color": "#111", "strokeWidth": 1.8, "strokeDash": [5, 2.5]}, "encoding": {"x": {"field": "wl", "type": "quantitative"}, "y": {"field": "r", "type": "quantitative"}, "detail": {"field": "s"}}},
  {"data": {"name": "oli"}, "transform": [{"filter": "datum.p == 'd'"}], "mark": {"type": "square", "color": "#111", "size": 28, "opacity": 1, "filled": true}, "encoding": {"x": {"field": "wl", "type": "quantitative"}, "y": {"field": "r", "type": "quantitative"}}},
  {"data": {"name": "labels"}, "transform": [{"filter": "datum.p == 'd'"}], "mark": {"type": "text", "fontSize": 28, "align": "left", "baseline": "alphabetic", "color": "#1a1a1a"}, "encoding": {"text": {"field": "lab"}, "x": {"datum": 693}, "y": {"datum": 0.055}}}
 ]},
{"title": "Gypsum Lab Spectra", "width": 418, "height": 289,
 "layer": [
  {"data": {"name": "hyper"}, "transform": [{"filter": "datum.p == 'e'"}], "mark": {"type": "line", "color": "#9d9d9d", "strokeWidth": 1.2, "interpolate": "monotone", "clip": true},
   "encoding": {"x": {"field": "wl", "type": "quantitative", "scale": {"domain": [650, 2500], "nice": false, "zero": false}, "axis": {"values": [650,750,850,950,1050,1150,1250,1350,1450,1550,1650,1750,1850,1950,2050,2150,2250,2350,2450], "labels": false, "title": null}},
                "y": {"field": "r", "type": "quantitative", "scale": {"domain": [0, 1], "nice": false}, "axis": {"values": [0,0.1,0.2,0.3,0.4,0.5,0.6,0.7,0.8,0.9,1], "labels": false, "title": null}},
                "detail": {"field": "s"}}},
  {"data": {"name": "oli"}, "transform": [{"filter": "datum.p == 'e'"}], "mark": {"type": "line", "color": "#111", "strokeWidth": 1.8, "strokeDash": [5, 2.5]}, "encoding": {"x": {"field": "wl", "type": "quantitative"}, "y": {"field": "r", "type": "quantitative"}, "detail": {"field": "s"}}},
  {"data": {"name": "oli"}, "transform": [{"filter": "datum.p == 'e'"}], "mark": {"type": "square", "color": "#111", "size": 28, "opacity": 1, "filled": true}, "encoding": {"x": {"field": "wl", "type": "quantitative"}, "y": {"field": "r", "type": "quantitative"}}},
  {"data": {"name": "labels"}, "transform": [{"filter": "datum.p == 'e'"}], "mark": {"type": "text", "fontSize": 28, "align": "left", "baseline": "alphabetic", "color": "#1a1a1a"}, "encoding": {"text": {"field": "lab"}, "x": {"datum": 693}, "y": {"datum": 0.055}}}
 ]},
{"title": "Gypsum Image Spectra Variability", "width": 418, "height": 289,
 "layer": [
  {"data": {"name": "oli"}, "transform": [{"filter": "datum.p == 'f'"}], "mark": {"type": "line", "color": "#111", "strokeWidth": 1.8, "strokeDash": [5, 2.5]},
   "encoding": {"x": {"field": "wl", "type": "quantitative", "scale": {"domain": [650, 2500], "nice": false, "zero": false}, "axis": {"values": [650,750,850,950,1050,1150,1250,1350,1450,1550,1650,1750,1850,1950,2050,2150,2250,2350,2450], "labels": false, "title": null}},
                "y": {"field": "r", "type": "quantitative", "scale": {"domain": [0, 1], "nice": false}, "axis": {"values": [0,0.1,0.2,0.3,0.4,0.5,0.6,0.7,0.8,0.9,1], "labels": false, "title": null}},
                "detail": {"field": "s"}}},
  {"data": {"name": "oli"}, "transform": [{"filter": "datum.p == 'f'"}], "mark": {"type": "square", "color": "#111", "size": 28, "opacity": 1, "filled": true}, "encoding": {"x": {"field": "wl", "type": "quantitative"}, "y": {"field": "r", "type": "quantitative"}}},
  {"data": {"name": "labels"}, "transform": [{"filter": "datum.p == 'f'"}], "mark": {"type": "text", "fontSize": 28, "align": "left", "baseline": "alphabetic", "color": "#1a1a1a"}, "encoding": {"text": {"field": "lab"}, "x": {"datum": 693}, "y": {"datum": 0.055}}}
 ]},
{"title": {"text": "Carbonate Lab Spectra", "offset": -7}, "width": 418, "height": 289,
 "layer": [
  {"data": {"name": "hyper"}, "transform": [{"filter": "datum.p == 'g'"}], "mark": {"type": "line", "color": "#9d9d9d", "strokeWidth": 1.2, "interpolate": "monotone", "clip": true},
   "encoding": {"x": {"field": "wl", "type": "quantitative", "scale": {"domain": [650, 2500], "nice": false, "zero": false}, "axis": {"values": [650,750,850,950,1050,1150,1250,1350,1450,1550,1650,1750,1850,1950,2050,2150,2250,2350,2450], "format": "d", "labelExpr": "(datum.value - 650) % 200 == 0 ? datum.label : ''", "title": "Wavelength (nm)"}},
                "y": {"field": "r", "type": "quantitative", "scale": {"domain": [0, 1], "nice": false}, "axis": {"values": [0,0.1,0.2,0.3,0.4,0.5,0.6,0.7,0.8,0.9,1], "format": ".1f", "labelExpr": "round(datum.value*10) % 2 == 0 ? datum.label : ''", "title": "Reflectance"}},
                "detail": {"field": "s"}}},
  {"data": {"name": "oli"}, "transform": [{"filter": "datum.p == 'g'"}], "mark": {"type": "line", "color": "#111", "strokeWidth": 1.8, "strokeDash": [5, 2.5]}, "encoding": {"x": {"field": "wl", "type": "quantitative"}, "y": {"field": "r", "type": "quantitative"}, "detail": {"field": "s"}}},
  {"data": {"name": "oli"}, "transform": [{"filter": "datum.p == 'g'"}], "mark": {"type": "square", "color": "#111", "size": 28, "opacity": 1, "filled": true}, "encoding": {"x": {"field": "wl", "type": "quantitative"}, "y": {"field": "r", "type": "quantitative"}}},
  {"data": {"name": "labels"}, "transform": [{"filter": "datum.p == 'g'"}], "mark": {"type": "text", "fontSize": 28, "align": "left", "baseline": "alphabetic", "color": "#1a1a1a"}, "encoding": {"text": {"field": "lab"}, "x": {"datum": 693}, "y": {"datum": 0.055}}}
 ]},
{"title": "Carbonate & Clay Mixture Lab Spectra", "width": 418, "height": 289,
 "layer": [
  {"data": {"name": "hyper"}, "transform": [{"filter": "datum.p == 'h'"}], "mark": {"type": "line", "color": "#9d9d9d", "strokeWidth": 1.2, "interpolate": "monotone", "clip": true},
   "encoding": {"x": {"field": "wl", "type": "quantitative", "scale": {"domain": [650, 2500], "nice": false, "zero": false}, "axis": {"values": [650,750,850,950,1050,1150,1250,1350,1450,1550,1650,1750,1850,1950,2050,2150,2250,2350,2450], "format": "d", "labelExpr": "(datum.value - 650) % 200 == 0 ? datum.label : ''", "title": "Wavelength (nm)"}},
                "y": {"field": "r", "type": "quantitative", "scale": {"domain": [0, 1], "nice": false}, "axis": {"values": [0,0.1,0.2,0.3,0.4,0.5,0.6,0.7,0.8,0.9,1], "labels": false, "title": null}},
                "detail": {"field": "s"}}},
  {"data": {"name": "oli"}, "transform": [{"filter": "datum.p == 'h'"}], "mark": {"type": "line", "color": "#111", "strokeWidth": 1.8, "strokeDash": [5, 2.5]}, "encoding": {"x": {"field": "wl", "type": "quantitative"}, "y": {"field": "r", "type": "quantitative"}, "detail": {"field": "s"}}},
  {"data": {"name": "oli"}, "transform": [{"filter": "datum.p == 'h'"}], "mark": {"type": "square", "color": "#111", "size": 28, "opacity": 1, "filled": true}, "encoding": {"x": {"field": "wl", "type": "quantitative"}, "y": {"field": "r", "type": "quantitative"}}},
  {"data": {"name": "labels"}, "transform": [{"filter": "datum.p == 'h'"}], "mark": {"type": "text", "fontSize": 28, "align": "left", "baseline": "alphabetic", "color": "#1a1a1a"}, "encoding": {"text": {"field": "lab"}, "x": {"datum": 693}, "y": {"datum": 0.055}}}
 ]},
{"title": "Carbonate Image Spectra Variability", "width": 418, "height": 289,
 "layer": [
  {"data": {"name": "oli"}, "transform": [{"filter": "datum.p == 'i'"}], "mark": {"type": "line", "strokeWidth": 1.8},
   "encoding": {"x": {"field": "wl", "type": "quantitative", "scale": {"domain": [650, 2500], "nice": false, "zero": false}, "axis": {"values": [650,750,850,950,1050,1150,1250,1350,1450,1550,1650,1750,1850,1950,2050,2150,2250,2350,2450], "format": "d", "labelExpr": "(datum.value - 650) % 200 == 0 ? datum.label : ''", "title": "Wavelength (nm)"}},
                "y": {"field": "r", "type": "quantitative", "scale": {"domain": [0, 1], "nice": false}, "axis": {"values": [0,0.1,0.2,0.3,0.4,0.5,0.6,0.7,0.8,0.9,1], "labels": false, "title": null}},
                "detail": {"field": "s"},
                "color": {"field": "t", "type": "nominal", "scale": {"domain": ["Hyperspectral (ASD)", "Downsampled (OLI)"], "range": ["#9d9d9d", "#111111"]}, "legend": {"orient": "bottom-right"}},
                "strokeDash": {"field": "t", "type": "nominal", "scale": {"domain": ["Hyperspectral (ASD)", "Downsampled (OLI)"], "range": [[1, 0], [5, 2.5]]}, "legend": {"orient": "bottom-right"}}}},
  {"data": {"name": "oli"}, "transform": [{"filter": "datum.p == 'i'"}], "mark": {"type": "square", "color": "#111", "size": 28, "opacity": 1, "filled": true}, "encoding": {"x": {"field": "wl", "type": "quantitative"}, "y": {"field": "r", "type": "quantitative"}}},
  {"data": {"name": "labels"}, "transform": [{"filter": "datum.p == 'i'"}], "mark": {"type": "text", "fontSize": 28, "align": "left", "baseline": "alphabetic", "color": "#1a1a1a"}, "encoding": {"text": {"field": "lab"}, "x": {"datum": 693}, "y": {"datum": 0.055}}}
 ]}
],
"columns": 3,
"spacing": {"row": 32, "column": 12}
}
